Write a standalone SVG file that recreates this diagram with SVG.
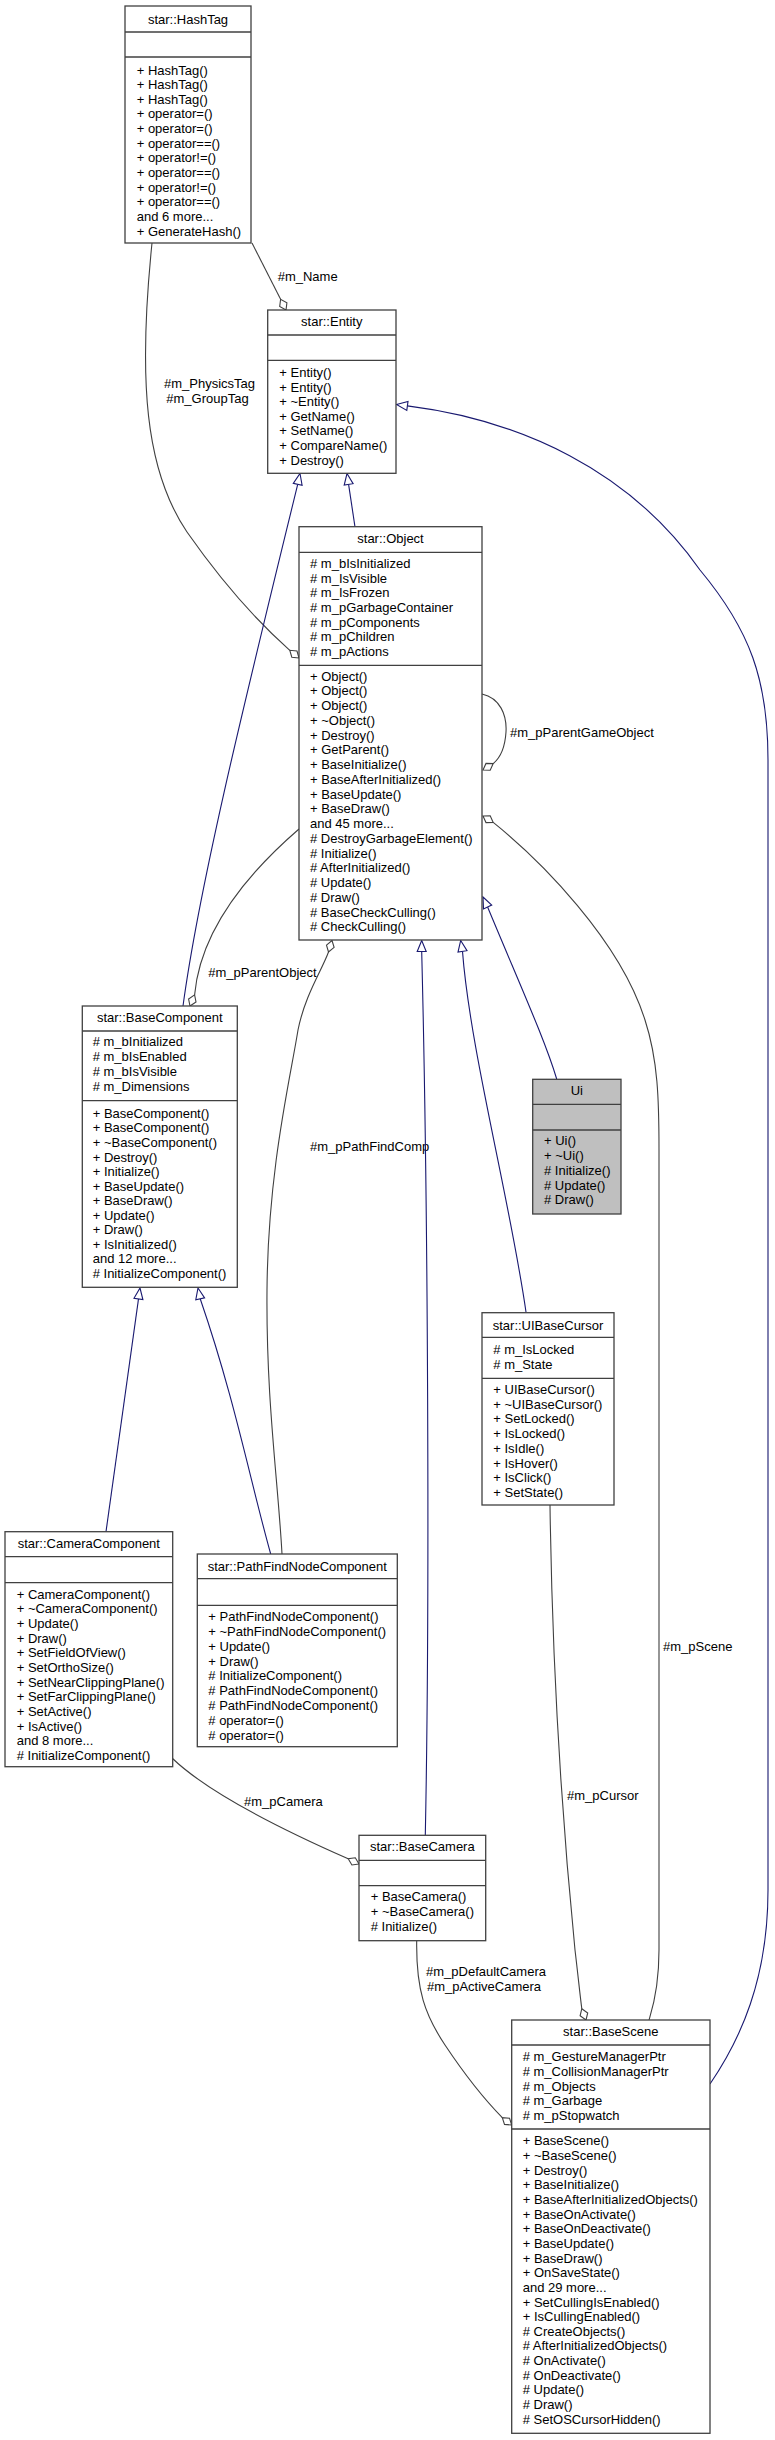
<svg xmlns="http://www.w3.org/2000/svg" width="775" height="2440" viewBox="0 0 775 2440">
<style>
.bg{fill:#fff}
.box{fill:#fff;stroke:#404040;stroke-width:1.3}
.ui{fill:#bfbfbf}
.dv{stroke:#404040;stroke-width:1.3}
text{font-family:"Liberation Sans",Arial,sans-serif;font-size:13px;fill:#000}
.c{text-anchor:middle}
.inh{fill:none;stroke:#191970;stroke-width:1.1}
.tri{fill:#fff;stroke:#191970;stroke-width:1.1}
.use{fill:none;stroke:#404040;stroke-width:1.1}
.dia{fill:#fff;stroke:#404040;stroke-width:1.1}
</style>
<rect class="bg" width="775" height="2440"/>
<g id="edges">
<path class="use" d="M252,243 L280.6,299.3"/>
<polygon class="dia" points="286,310 279.7,306.5 280.6,299.3 286.9,302.8"/>
<text x="277.7" y="280.5">#m_Name</text>
<path class="use" d="M152,243 C138,380 145,470 187,532 C215,572 250,615 289.8,650.3"/>
<polygon class="dia" points="299,658 291.8,657.2 289.8,650.3 297,651"/>
<text class="c" x="209.5" y="388">#m_PhysicsTag</text>
<text class="c" x="207.5" y="403">#m_GroupTag</text>
<path class="inh" d="M355,527 L348.6,484.4"/>
<polygon class="tri" points="347,473.5 353.1,483.7 344.2,485.1"/>
<path class="inh" d="M183,1006 C200,880 250,680 297.7,484.3"/>
<polygon class="tri" points="300,473.5 302.1,485.25 293.3,483.35"/>
<path class="use" d="M482,694 C500,698 507,715 506,732 C505,748 500,758 493.2,763.6"/>
<polygon class="dia" points="483,770 486,763.4 493.2,763.6 490.2,770.2"/>
<text x="510" y="737">#m_pParentGameObject</text>
<path class="use" d="M299,829 C240,880 200,935 194.6,994.9"/>
<polygon class="dia" points="190,1006 196,1002 194.6,994.9 188.6,999"/>
<text x="208.3" y="977">#m_pParentObject</text>
<path class="use" d="M328.5,952 C322,970 305,995 298,1030 C290,1080 268,1170 267,1290 C266,1400 278,1480 282,1554"/>
<polygon class="dia" points="332,940.5 334.1,947.4 328.5,952 326.5,945.1"/>
<text x="310" y="1151">#m_pPathFindComp</text>
<path class="inh" d="M556.7,1079 C545,1040 520,985 487.6,907"/>
<polygon class="tri" points="483,897 491.7,905.1 483.5,908.9"/>
<path class="inh" d="M526,1312 C510,1200 470,1050 462.5,951.4"/>
<polygon class="tri" points="460.7,940.5 467,950.7 458,952.1"/>
<path class="inh" d="M425.3,1835 C430,1600 428,1200 421.7,951.5"/>
<polygon class="tri" points="421.7,940.5 426.2,951.5 417.2,951.5"/>
<path class="use" d="M493.2,822.4 C540,860 620,940 645,1020 C658,1060 659,1100 659,1150 L659,1950 C659,1990 652,2010 649,2020"/>
<polygon class="dia" points="483,816 490.2,815.8 493.2,822.4 486,822.6"/>
<text x="663" y="1651">#m_pScene</text>
<path class="inh" d="M407.4,405.9 C520,420 630,470 700,570 C750,630 768,680 768,760 L768,1890 C768,1980 740,2040 710,2084"/>
<polygon class="tri" points="396.5,404.5 408,401.4 406.8,410.4"/>
<path class="inh" d="M106,1531.7 L138.5,1298.9"/>
<polygon class="tri" points="140,1288 142.9,1299.5 134,1298.3"/>
<path class="inh" d="M270.7,1554 C250,1480 235,1400 200.2,1298.8"/>
<polygon class="tri" points="198,1288 204.6,1297.9 195.8,1299.7"/>
<path class="use" d="M172,1758 C200,1785 260,1820 348.2,1858.8"/>
<polygon class="dia" points="359,1864 351.9,1865 348.2,1858.8 355.3,1857.8"/>
<text x="244" y="1806">#m_pCamera</text>
<path class="use" d="M550,1505 C552,1650 560,1800 575,1950 C578,1975 580,1995 581.8,2008.7"/>
<polygon class="dia" points="586,2020 580.1,2015.8 581.8,2008.7 587.7,2013"/>
<text x="567" y="1800">#m_pCursor</text>
<path class="use" d="M416.7,1941 C416,1990 425,2015 445,2045 C465,2075 485,2100 502.3,2117.6"/>
<polygon class="dia" points="511.7,2125 504.5,2124.4 502.3,2117.6 509.5,2118.2"/>
<text class="c" x="486" y="1976">#m_pDefaultCamera</text>
<text class="c" x="484" y="1991">#m_pActiveCamera</text>
</g>
<g id="HashTag">
<rect class="box" x="125" y="6" width="126" height="237"/>
<line class="dv" x1="125" y1="32" x2="251" y2="32"/>
<line class="dv" x1="125" y1="57" x2="251" y2="57"/>
<text class="c" x="188" y="23.5">star::HashTag</text>
<text x="136.7" y="74.5">+ HashTag()</text>
<text x="136.7" y="89.1">+ HashTag()</text>
<text x="136.7" y="103.8">+ HashTag()</text>
<text x="136.7" y="118.4">+ operator=()</text>
<text x="136.7" y="133.1">+ operator=()</text>
<text x="136.7" y="147.7">+ operator==()</text>
<text x="136.7" y="162.3">+ operator!=()</text>
<text x="136.7" y="177">+ operator==()</text>
<text x="136.7" y="191.6">+ operator!=()</text>
<text x="136.7" y="206.3">+ operator==()</text>
<text x="136.7" y="220.9">and 6 more...</text>
<text x="136.7" y="235.5">+ GenerateHash()</text>
</g>
<g id="Entity">
<rect class="box" x="267.7" y="310" width="128.3" height="163.3"/>
<line class="dv" x1="267.7" y1="335" x2="396" y2="335"/>
<line class="dv" x1="267.7" y1="360.3" x2="396" y2="360.3"/>
<text class="c" x="331.8" y="326">star::Entity</text>
<text x="279.3" y="377.2">+ Entity()</text>
<text x="279.3" y="391.8">+ Entity()</text>
<text x="279.3" y="406.3">+ ~Entity()</text>
<text x="279.3" y="420.9">+ GetName()</text>
<text x="279.3" y="435.4">+ SetName()</text>
<text x="279.3" y="450">+ CompareName()</text>
<text x="279.3" y="464.5">+ Destroy()</text>
</g>
<g id="Object">
<rect class="box" x="299" y="526.7" width="183" height="413.3"/>
<line class="dv" x1="299" y1="552.3" x2="482" y2="552.3"/>
<line class="dv" x1="299" y1="665.3" x2="482" y2="665.3"/>
<text class="c" x="390.5" y="543">star::Object</text>
<text x="310" y="567.8"># m_bIsInitialized</text>
<text x="310" y="582.5"># m_IsVisible</text>
<text x="310" y="597.2"># m_IsFrozen</text>
<text x="310" y="611.9"># m_pGarbageContainer</text>
<text x="310" y="626.6"># m_pComponents</text>
<text x="310" y="641.3"># m_pChildren</text>
<text x="310" y="656"># m_pActions</text>
<text x="310" y="680.5">+ Object()</text>
<text x="310" y="695.3">+ Object()</text>
<text x="310" y="710">+ Object()</text>
<text x="310" y="724.8">+ ~Object()</text>
<text x="310" y="739.5">+ Destroy()</text>
<text x="310" y="754.3">+ GetParent()</text>
<text x="310" y="769">+ BaseInitialize()</text>
<text x="310" y="783.8">+ BaseAfterInitialized()</text>
<text x="310" y="798.5">+ BaseUpdate()</text>
<text x="310" y="813.3">+ BaseDraw()</text>
<text x="310" y="828">and 45 more...</text>
<text x="310" y="842.8"># DestroyGarbageElement()</text>
<text x="310" y="857.5"># Initialize()</text>
<text x="310" y="872.3"># AfterInitialized()</text>
<text x="310" y="887"># Update()</text>
<text x="310" y="901.8"># Draw()</text>
<text x="310" y="916.5"># BaseCheckCulling()</text>
<text x="310" y="931.3"># CheckCulling()</text>
</g>
<g id="BaseComponent">
<rect class="box" x="82.3" y="1006" width="155" height="281.3"/>
<line class="dv" x1="82.3" y1="1031" x2="237.3" y2="1031"/>
<line class="dv" x1="82.3" y1="1100.7" x2="237.3" y2="1100.7"/>
<text class="c" x="159.8" y="1022">star::BaseComponent</text>
<text x="92.7" y="1046.2"># m_bInitialized</text>
<text x="92.7" y="1061.2"># m_bIsEnabled</text>
<text x="92.7" y="1076.2"># m_bIsVisible</text>
<text x="92.7" y="1091.2"># m_Dimensions</text>
<text x="92.7" y="1117.8">+ BaseComponent()</text>
<text x="92.7" y="1132.4">+ BaseComponent()</text>
<text x="92.7" y="1146.9">+ ~BaseComponent()</text>
<text x="92.7" y="1161.5">+ Destroy()</text>
<text x="92.7" y="1176">+ Initialize()</text>
<text x="92.7" y="1190.6">+ BaseUpdate()</text>
<text x="92.7" y="1205.1">+ BaseDraw()</text>
<text x="92.7" y="1219.7">+ Update()</text>
<text x="92.7" y="1234.2">+ Draw()</text>
<text x="92.7" y="1248.8">+ IsInitialized()</text>
<text x="92.7" y="1263.3">and 12 more...</text>
<text x="92.7" y="1277.9"># InitializeComponent()</text>
</g>
<g id="Ui">
<rect class="box ui" x="532.7" y="1079.3" width="88.3" height="134.7"/>
<line class="dv" x1="532.7" y1="1104.3" x2="621" y2="1104.3"/>
<line class="dv" x1="532.7" y1="1130" x2="621" y2="1130"/>
<text class="c" x="576.8" y="1094.5">Ui</text>
<text x="544" y="1145.2">+ Ui()</text>
<text x="544" y="1160">+ ~Ui()</text>
<text x="544" y="1174.8"># Initialize()</text>
<text x="544" y="1189.6"># Update()</text>
<text x="544" y="1204.4"># Draw()</text>
</g>
<g id="UIBaseCursor">
<rect class="box" x="482" y="1312.7" width="132" height="192.3"/>
<line class="dv" x1="482" y1="1337.3" x2="614" y2="1337.3"/>
<line class="dv" x1="482" y1="1378.3" x2="614" y2="1378.3"/>
<text class="c" x="548" y="1329.5">star::UIBaseCursor</text>
<text x="493.3" y="1353.8"># m_IsLocked</text>
<text x="493.3" y="1368.8"># m_State</text>
<text x="493.3" y="1393.8">+ UIBaseCursor()</text>
<text x="493.3" y="1408.6">+ ~UIBaseCursor()</text>
<text x="493.3" y="1423.3">+ SetLocked()</text>
<text x="493.3" y="1438.1">+ IsLocked()</text>
<text x="493.3" y="1452.9">+ IsIdle()</text>
<text x="493.3" y="1467.7">+ IsHover()</text>
<text x="493.3" y="1482.4">+ IsClick()</text>
<text x="493.3" y="1497.2">+ SetState()</text>
</g>
<g id="CameraComponent">
<rect class="box" x="5" y="1531.7" width="167.7" height="235"/>
<line class="dv" x1="5" y1="1556.7" x2="172.7" y2="1556.7"/>
<line class="dv" x1="5" y1="1582.7" x2="172.7" y2="1582.7"/>
<text class="c" x="88.8" y="1548">star::CameraComponent</text>
<text x="16.7" y="1598.8">+ CameraComponent()</text>
<text x="16.7" y="1613.4">+ ~CameraComponent()</text>
<text x="16.7" y="1628.1">+ Update()</text>
<text x="16.7" y="1642.7">+ Draw()</text>
<text x="16.7" y="1657.4">+ SetFieldOfView()</text>
<text x="16.7" y="1672">+ SetOrthoSize()</text>
<text x="16.7" y="1686.6">+ SetNearClippingPlane()</text>
<text x="16.7" y="1701.3">+ SetFarClippingPlane()</text>
<text x="16.7" y="1715.9">+ SetActive()</text>
<text x="16.7" y="1730.6">+ IsActive()</text>
<text x="16.7" y="1745.2">and 8 more...</text>
<text x="16.7" y="1759.8"># InitializeComponent()</text>
</g>
<g id="PathFindNodeComponent">
<rect class="box" x="197.3" y="1554" width="200" height="192.7"/>
<line class="dv" x1="197.3" y1="1578.7" x2="397.3" y2="1578.7"/>
<line class="dv" x1="197.3" y1="1605.3" x2="397.3" y2="1605.3"/>
<text class="c" x="297.3" y="1570.5">star::PathFindNodeComponent</text>
<text x="208.3" y="1621.2">+ PathFindNodeComponent()</text>
<text x="208.3" y="1636">+ ~PathFindNodeComponent()</text>
<text x="208.3" y="1650.8">+ Update()</text>
<text x="208.3" y="1665.6">+ Draw()</text>
<text x="208.3" y="1680.4"># InitializeComponent()</text>
<text x="208.3" y="1695.2"># PathFindNodeComponent()</text>
<text x="208.3" y="1710"># PathFindNodeComponent()</text>
<text x="208.3" y="1724.8"># operator=()</text>
<text x="208.3" y="1739.6"># operator=()</text>
</g>
<g id="BaseCamera">
<rect class="box" x="359" y="1835.3" width="126.7" height="105.4"/>
<line class="dv" x1="359" y1="1860.3" x2="485.7" y2="1860.3"/>
<line class="dv" x1="359" y1="1885.7" x2="485.7" y2="1885.7"/>
<text class="c" x="422.3" y="1851">star::BaseCamera</text>
<text x="370.7" y="1901.2">+ BaseCamera()</text>
<text x="370.7" y="1916.2">+ ~BaseCamera()</text>
<text x="370.7" y="1931.2"># Initialize()</text>
</g>
<g id="BaseScene">
<rect class="box" x="511.7" y="2020" width="198.3" height="413.3"/>
<line class="dv" x1="511.7" y1="2045" x2="710" y2="2045"/>
<line class="dv" x1="511.7" y1="2129" x2="710" y2="2129"/>
<text class="c" x="610.8" y="2036">star::BaseScene</text>
<text x="522.7" y="2061.2"># m_GestureManagerPtr</text>
<text x="522.7" y="2075.9"># m_CollisionManagerPtr</text>
<text x="522.7" y="2090.7"># m_Objects</text>
<text x="522.7" y="2105.4"># m_Garbage</text>
<text x="522.7" y="2120.2"># m_pStopwatch</text>
<text x="522.7" y="2145.2">+ BaseScene()</text>
<text x="522.7" y="2159.9">+ ~BaseScene()</text>
<text x="522.7" y="2174.5">+ Destroy()</text>
<text x="522.7" y="2189.2">+ BaseInitialize()</text>
<text x="522.7" y="2203.8">+ BaseAfterInitializedObjects()</text>
<text x="522.7" y="2218.5">+ BaseOnActivate()</text>
<text x="522.7" y="2233.2">+ BaseOnDeactivate()</text>
<text x="522.7" y="2247.8">+ BaseUpdate()</text>
<text x="522.7" y="2262.5">+ BaseDraw()</text>
<text x="522.7" y="2277.1">+ OnSaveState()</text>
<text x="522.7" y="2291.8">and 29 more...</text>
<text x="522.7" y="2306.5">+ SetCullingIsEnabled()</text>
<text x="522.7" y="2321.1">+ IsCullingEnabled()</text>
<text x="522.7" y="2335.8"># CreateObjects()</text>
<text x="522.7" y="2350.4"># AfterInitializedObjects()</text>
<text x="522.7" y="2365.1"># OnActivate()</text>
<text x="522.7" y="2379.8"># OnDeactivate()</text>
<text x="522.7" y="2394.4"># Update()</text>
<text x="522.7" y="2409.1"># Draw()</text>
<text x="522.7" y="2423.7"># SetOSCursorHidden()</text>
</g>
</svg>
